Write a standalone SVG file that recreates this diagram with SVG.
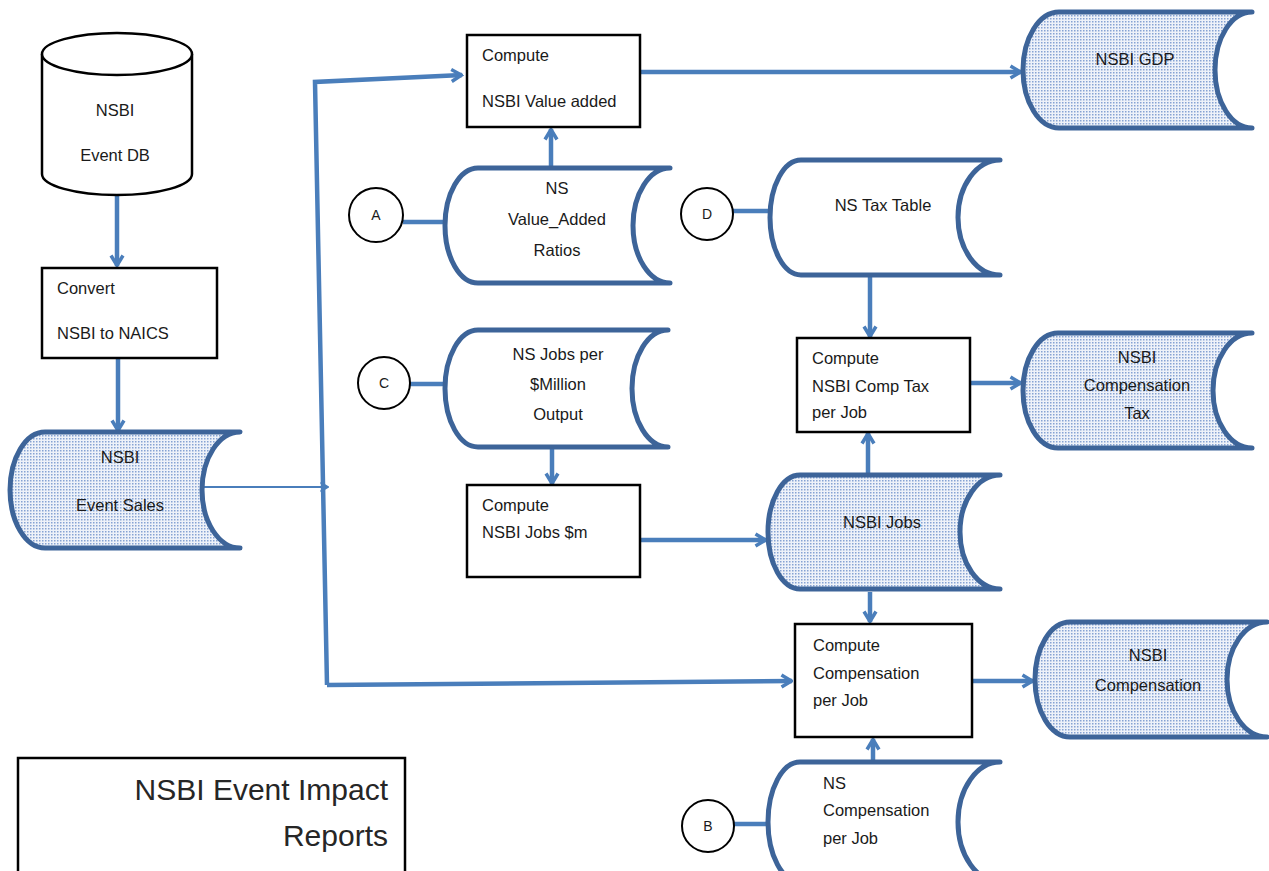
<svg xmlns="http://www.w3.org/2000/svg" width="1269" height="871" viewBox="0 0 1269 871">
<defs>
<pattern id="dots" width="3" height="3" patternUnits="userSpaceOnUse"><rect width="3" height="3" fill="#eef2f9"/><rect width="1.5" height="1.5" fill="#86a3d3"/></pattern>
<marker id="ah" viewBox="0 0 14 16" refX="12.5" refY="8" markerWidth="14" markerHeight="16" markerUnits="userSpaceOnUse" orient="auto"><path d="M2,2 L12,8 L2,14" fill="none" stroke="#4a7ebb" stroke-width="3.5" stroke-linejoin="miter"/></marker>
<marker id="ahs" viewBox="0 0 10 12" refX="9" refY="6" markerWidth="10" markerHeight="12" markerUnits="userSpaceOnUse" orient="auto"><path d="M1.5,1.5 L9,6 L1.5,10.5" fill="none" stroke="#4a7ebb" stroke-width="2"/></marker>
</defs>
<style>
.t{font-family:"Liberation Sans",Arial,sans-serif;font-size:16.5px;fill:#1a1a1a}
.c{text-anchor:middle}
.box{fill:#fff;stroke:#000;stroke-width:2.5}
.circ{fill:#fff;stroke:#000;stroke-width:2}
.sd{stroke:#3d6499;stroke-width:5;stroke-linejoin:round}
.plain{fill:#fff}
.dot{fill:url(#dots)}
.cn{fill:none;stroke:#4a7ebb;stroke-width:4.5}
.ar{marker-end:url(#ah)}
.lt{font-size:14px}
.ttl{font-family:"Liberation Sans",Arial,sans-serif;font-size:30px;fill:#262626;text-anchor:end}
</style>

<g id="connectors">
<line class="cn ar" x1="117" y1="195" x2="117" y2="266"/>
<line class="cn ar" x1="118" y1="358" x2="118" y2="431"/>
<line x1="203" y1="487" x2="328" y2="487" stroke="#4a7ebb" stroke-width="2" marker-end="url(#ahs)"/>
<path class="cn ar" d="M327,685 L315,82 L462,75"/>
<path class="cn ar" d="M327,685 L792,681"/>
<line class="cn ar" x1="640" y1="72" x2="1021" y2="72"/>
<line class="cn ar" x1="551" y1="168" x2="551" y2="129"/>
<line class="cn" x1="403" y1="222" x2="445" y2="222"/>
<line class="cn" x1="733" y1="211" x2="770" y2="211"/>
<line class="cn ar" x1="870" y1="275" x2="870" y2="337"/>
<line class="cn ar" x1="970" y1="383" x2="1021" y2="383"/>
<line class="cn" x1="410" y1="384" x2="447" y2="384"/>
<line class="cn ar" x1="552" y1="446" x2="552" y2="484"/>
<line class="cn ar" x1="640" y1="540" x2="766" y2="540"/>
<line class="cn ar" x1="868" y1="475" x2="868" y2="433"/>
<line class="cn ar" x1="870" y1="592" x2="870" y2="622"/>
<line class="cn ar" x1="972" y1="681" x2="1033" y2="681"/>
<line class="cn ar" x1="873" y1="762" x2="873" y2="739"/>
<line class="cn" x1="734" y1="824" x2="768" y2="824"/>
</g>

<g id="event-db">
<path d="M42,54 V174 A75,21 0 0 0 192,174 V54" fill="#fff" stroke="#000" stroke-width="2.5"/>
<ellipse cx="117" cy="54" rx="75" ry="21" fill="#fff" stroke="#000" stroke-width="2.5"/>
<text class="t c" x="115" y="116">NSBI</text>
<text class="t c" x="115" y="161">Event DB</text>
</g>

<g id="convert">
<rect class="box" x="42" y="268" width="175" height="90"/>
<text class="t" x="57" y="294">Convert</text>
<text class="t" x="57" y="339">NSBI to NAICS</text>
</g>

<g id="event-sales">
<path class="sd dot" d="M45,432 H240 A38,58 0 0 0 240,548 H45 A35,58 0 0 1 45,432 Z"/>
<text class="t c" x="120" y="463">NSBI</text>
<text class="t c" x="120" y="511">Event Sales</text>
</g>

<g id="compute-value-added">
<rect class="box" x="467" y="35" width="173" height="92"/>
<text class="t" x="482" y="61">Compute</text>
<text class="t" x="482" y="107">NSBI Value added</text>
</g>

<g id="nsbi-gdp">
<path class="sd dot" d="M1059,12 H1252 A37,58 0 0 0 1252,128 H1059 A36,58 0 0 1 1059,12 Z"/>
<text class="t c" x="1135" y="65">NSBI GDP</text>
</g>

<g id="circle-a">
<circle class="circ" cx="376" cy="215" r="27"/>
<text class="t c lt" x="376" y="220">A</text>
</g>

<g id="value-added-ratios">
<path class="sd plain" d="M478,168 H670 A37,57.5 0 0 0 670,283 H478 A33,57.5 0 0 1 478,168 Z"/>
<text class="t c" x="557" y="194">NS</text>
<text class="t c" x="557" y="225">Value_Added</text>
<text class="t c" x="557" y="256">Ratios</text>
</g>

<g id="circle-d">
<circle class="circ" cx="707" cy="214" r="26"/>
<text class="t c lt" x="707" y="219">D</text>
</g>

<g id="tax-table">
<path class="sd plain" d="M801,160 H1000 A42,57.5 0 0 0 1000,275 H801 A31,57.5 0 0 1 801,160 Z"/>
<text class="t c" x="883" y="211">NS Tax Table</text>
</g>

<g id="compute-comp-tax">
<rect class="box" x="797" y="338" width="173" height="94"/>
<text class="t" x="812" y="364">Compute</text>
<text class="t" x="812" y="392">NSBI Comp Tax</text>
<text class="t" x="812" y="418">per Job</text>
</g>

<g id="compensation-tax">
<path class="sd dot" d="M1058,333 H1252 A39,57.5 0 0 0 1252,448 H1058 A35,57.5 0 0 1 1058,333 Z"/>
<text class="t c" x="1137" y="363">NSBI</text>
<text class="t c" x="1137" y="391">Compensation</text>
<text class="t c" x="1137" y="419">Tax</text>
</g>

<g id="circle-c">
<circle class="circ" cx="384" cy="383" r="26"/>
<text class="t c lt" x="384" y="388">C</text>
</g>

<g id="jobs-per-million">
<path class="sd plain" d="M478,330 H668 A36,58.5 0 0 0 668,447 H478 A33,58.5 0 0 1 478,330 Z"/>
<text class="t c" x="558" y="360">NS Jobs per</text>
<text class="t c" x="558" y="390">$Million</text>
<text class="t c" x="558" y="420">Output</text>
</g>

<g id="compute-jobs">
<rect class="box" x="467" y="485" width="173" height="92"/>
<text class="t" x="482" y="511">Compute</text>
<text class="t" x="482" y="538">NSBI Jobs $m</text>
</g>

<g id="nsbi-jobs">
<path class="sd dot" d="M800,475 H1000 A40,57 0 0 0 1000,589 H800 A32,57 0 0 1 800,475 Z"/>
<text class="t c" x="882" y="528">NSBI Jobs</text>
</g>

<g id="compute-compensation">
<rect class="box" x="795" y="624" width="177" height="113"/>
<text class="t" x="813" y="651">Compute</text>
<text class="t" x="813" y="679">Compensation</text>
<text class="t" x="813" y="706">per Job</text>
</g>

<g id="nsbi-compensation">
<path class="sd dot" d="M1070,622 H1267 A40,57.5 0 0 0 1267,737 H1070 A35,57.5 0 0 1 1070,622 Z"/>
<text class="t c" x="1148" y="661">NSBI</text>
<text class="t c" x="1148" y="691">Compensation</text>
</g>

<g id="circle-b">
<circle class="circ" cx="708" cy="826" r="26"/>
<text class="t c lt" x="708" y="831">B</text>
</g>

<g id="compensation-per-job">
<path class="sd plain" d="M800,762 H1000 A42,60 0 0 0 1000,882 H800 A32,60 0 0 1 800,762 Z"/>
<text class="t" x="823" y="789">NS</text>
<text class="t" x="823" y="816">Compensation</text>
<text class="t" x="823" y="844">per Job</text>
</g>

<g id="title">
<rect x="18" y="758" width="387" height="130" fill="#fff" stroke="#000" stroke-width="2.5"/>
<text class="ttl" x="388" y="800">NSBI Event Impact</text>
<text class="ttl" x="388" y="846">Reports</text>
</g>
</svg>
